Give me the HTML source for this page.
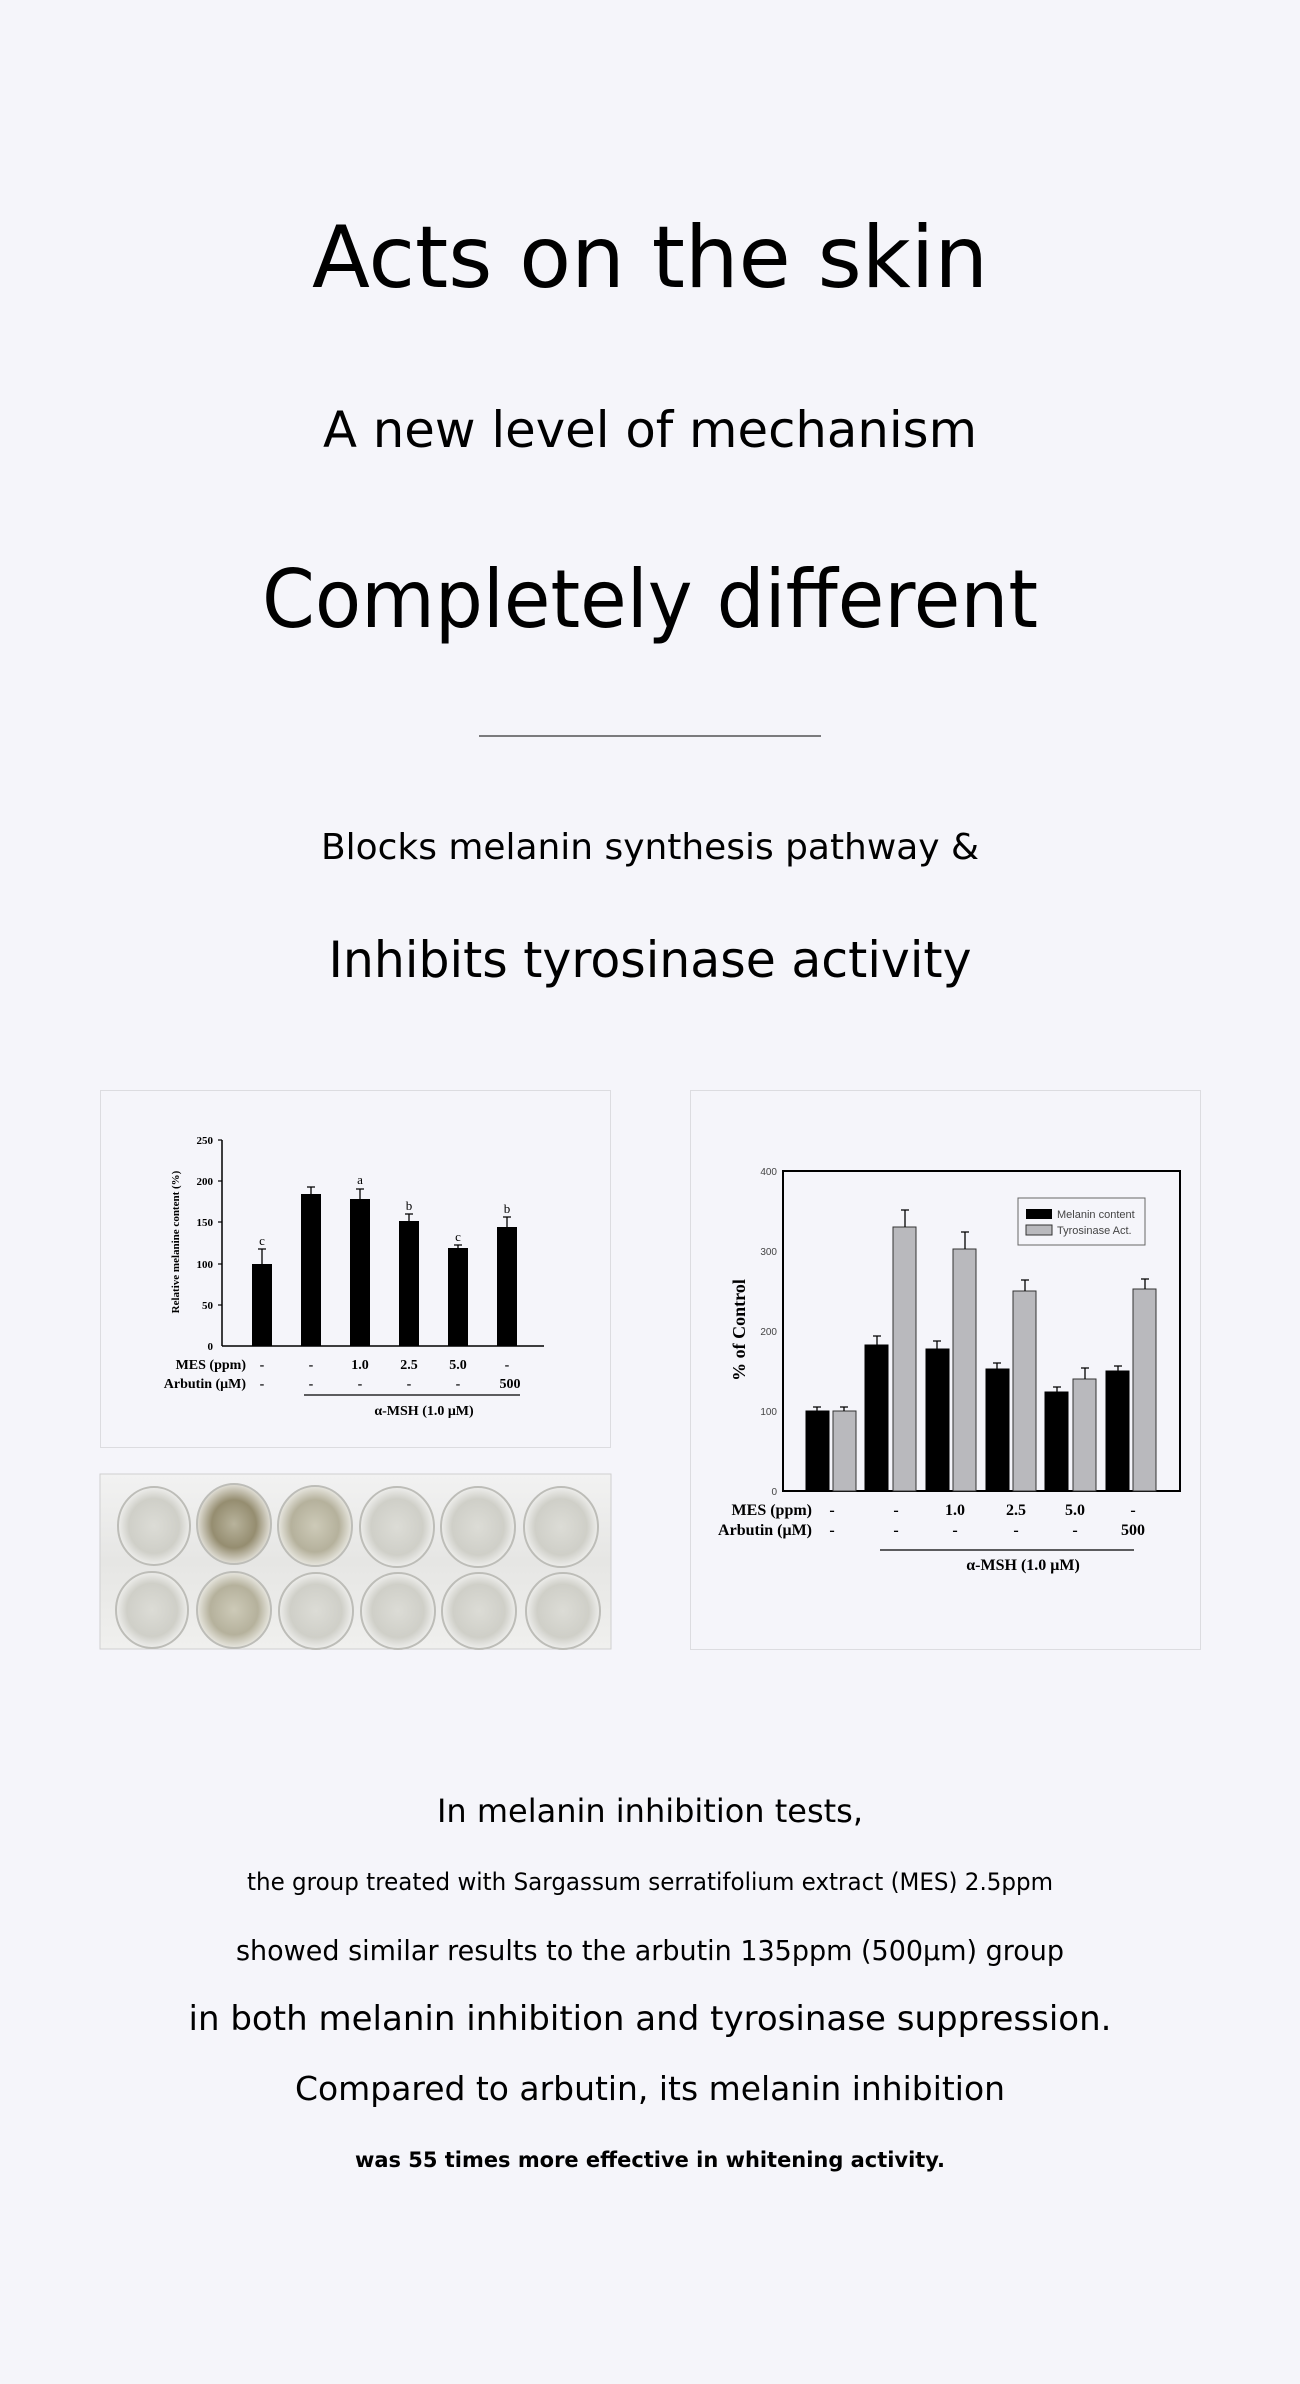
<!DOCTYPE html>
<html><head><meta charset="utf-8"><style>
html,body{margin:0;padding:0;background:#f5f5fa;}
svg{display:block;}
</style></head><body>
<svg width="1300" height="2384" viewBox="0 0 1300 2384" xmlns="http://www.w3.org/2000/svg" font-family="DejaVu Sans, Liberation Sans, sans-serif">
<rect width="1300" height="2384" fill="#f5f5fa"/>
<g fill="#000" text-anchor="middle">
<text x="650" y="287" font-size="86" textLength="676" lengthAdjust="spacingAndGlyphs">Acts on the skin</text>
<text x="650" y="447" font-size="50" textLength="654" lengthAdjust="spacingAndGlyphs">A new level of mechanism</text>
<text x="650" y="627" font-size="80" textLength="776" lengthAdjust="spacingAndGlyphs">Completely different</text>
<text x="650" y="859" font-size="36" textLength="658" lengthAdjust="spacingAndGlyphs">Blocks melanin synthesis pathway &amp;</text>
<text x="650" y="977" font-size="50" textLength="643" lengthAdjust="spacingAndGlyphs">Inhibits tyrosinase activity</text>
<text x="650" y="1822" font-size="32" textLength="426" lengthAdjust="spacingAndGlyphs">In melanin inhibition tests,</text>
<text x="650" y="1890" font-size="24" textLength="806" lengthAdjust="spacingAndGlyphs">the group treated with Sargassum serratifolium extract (MES) 2.5ppm</text>
<text x="650" y="1960" font-size="28" textLength="828" lengthAdjust="spacingAndGlyphs">showed similar results to the arbutin 135ppm (500μm) group</text>
<text x="650" y="2030" font-size="34" textLength="923" lengthAdjust="spacingAndGlyphs">in both melanin inhibition and tyrosinase suppression.</text>
<text x="650" y="2100" font-size="33" textLength="710" lengthAdjust="spacingAndGlyphs">Compared to arbutin, its melanin inhibition</text>
<text x="650" y="2167" font-size="21" font-weight="bold" textLength="590" lengthAdjust="spacingAndGlyphs">was 55 times more effective in whitening activity.</text>
</g>
<line x1="479" y1="736" x2="821" y2="736" stroke="#333" stroke-width="1.2"/>

<!-- left chart panel -->
<rect x="100.5" y="1090.5" width="510" height="357" fill="#f5f5fa" stroke="#dcdce0"/>
<g font-family="Liberation Serif, serif" font-weight="bold" fill="#000">
<line x1="222" y1="1140" x2="222" y2="1346" stroke="#000" stroke-width="1.5"/>
<line x1="222" y1="1346" x2="544" y2="1346" stroke="#000" stroke-width="1.5"/>
<g font-size="11" text-anchor="end">
<text x="213" y="1144">250</text><text x="213" y="1185">200</text><text x="213" y="1226">150</text>
<text x="213" y="1268">100</text><text x="213" y="1309">50</text><text x="213" y="1350">0</text>
</g>
<g stroke="#000" stroke-width="1.2">
<line x1="218" y1="1140" x2="222" y2="1140"/><line x1="218" y1="1181" x2="222" y2="1181"/><line x1="218" y1="1222" x2="222" y2="1222"/>
<line x1="218" y1="1264" x2="222" y2="1264"/><line x1="218" y1="1305" x2="222" y2="1305"/>
</g>
<text transform="translate(179,1242) rotate(-90)" font-size="11" text-anchor="middle">Relative melanine content (%)</text>
<g fill="#000">
<rect x="252" y="1264" width="20" height="82"/>
<rect x="301" y="1194" width="20" height="152"/>
<rect x="350" y="1199" width="20" height="147"/>
<rect x="399" y="1221" width="20" height="125"/>
<rect x="448" y="1248" width="20" height="98"/>
<rect x="497" y="1227" width="20" height="119"/>
</g>
<g stroke="#000" stroke-width="1.3">
<path d="M262 1264V1249M258 1249H266"/>
<path d="M311 1194V1187M307 1187H315"/>
<path d="M360 1199V1189M356 1189H364"/>
<path d="M409 1221V1214M405 1214H413"/>
<path d="M458 1248V1245M454 1245H462"/>
<path d="M507 1227V1217M503 1217H511"/>
</g>
<g font-size="13" font-weight="normal" text-anchor="middle">
<text x="262" y="1245">c</text><text x="360" y="1184">a</text><text x="409" y="1210">b</text>
<text x="458" y="1241">c</text><text x="507" y="1213">b</text>
</g>
<g font-size="14" text-anchor="end"><text x="246" y="1369">MES (ppm)</text><text x="246" y="1388">Arbutin (μM)</text></g>
<g font-size="14" text-anchor="middle">
<text x="262" y="1369">-</text><text x="311" y="1369">-</text><text x="360" y="1369">1.0</text><text x="409" y="1369">2.5</text><text x="458" y="1369">5.0</text><text x="507" y="1369">-</text>
<text x="262" y="1388">-</text><text x="311" y="1388">-</text><text x="360" y="1388">-</text><text x="409" y="1388">-</text><text x="458" y="1388">-</text><text x="510" y="1388">500</text>
<text x="424" y="1415">α-MSH (1.0 μM)</text>
</g>
<line x1="304" y1="1395" x2="520" y2="1395" stroke="#000" stroke-width="1.3"/>
</g>

<!-- photo -->
<defs>
<linearGradient id="pbg" x1="0" y1="0" x2="0" y2="1"><stop offset="0" stop-color="#f2f2f2"/><stop offset="0.5" stop-color="#e6e6e4"/><stop offset="1" stop-color="#f0f0ee"/></linearGradient>
<radialGradient id="wc" cx="0.5" cy="0.5" r="0.5"><stop offset="0" stop-color="#dcdcd6"/><stop offset="0.7" stop-color="#cfcfc8"/><stop offset="1" stop-color="#eeeeec"/></radialGradient>
<radialGradient id="wd" cx="0.5" cy="0.5" r="0.5"><stop offset="0" stop-color="#b8b39c"/><stop offset="0.6" stop-color="#958d70"/><stop offset="1" stop-color="#e2e0d8"/></radialGradient>
<radialGradient id="wm" cx="0.5" cy="0.5" r="0.5"><stop offset="0" stop-color="#cdcab8"/><stop offset="0.65" stop-color="#b5b19c"/><stop offset="1" stop-color="#e8e7e0"/></radialGradient>
</defs>
<rect x="100" y="1474" width="511" height="175" fill="url(#pbg)" stroke="#d0d0d0"/>
<g stroke="#bdbdb8" stroke-width="2">
<ellipse cx="154" cy="1526" rx="36" ry="39" fill="url(#wc)"/>
<ellipse cx="234" cy="1524" rx="37" ry="40" fill="url(#wd)"/>
<ellipse cx="315" cy="1526" rx="37" ry="40" fill="url(#wm)"/>
<ellipse cx="397" cy="1527" rx="37" ry="40" fill="url(#wc)"/>
<ellipse cx="478" cy="1527" rx="37" ry="40" fill="url(#wc)"/>
<ellipse cx="561" cy="1527" rx="37" ry="40" fill="url(#wc)"/>
<ellipse cx="152" cy="1610" rx="36" ry="38" fill="url(#wc)"/>
<ellipse cx="234" cy="1610" rx="37" ry="38" fill="url(#wm)"/>
<ellipse cx="316" cy="1611" rx="37" ry="38" fill="url(#wc)"/>
<ellipse cx="398" cy="1611" rx="37" ry="38" fill="url(#wc)"/>
<ellipse cx="479" cy="1611" rx="37" ry="38" fill="url(#wc)"/>
<ellipse cx="563" cy="1611" rx="37" ry="38" fill="url(#wc)"/>
</g>

<!-- right chart panel -->
<rect x="690.5" y="1090.5" width="510" height="559" fill="#f5f5fa" stroke="#dcdce0"/>
<rect x="783" y="1171" width="397" height="320" fill="none" stroke="#000" stroke-width="2"/>
<g font-family="Liberation Sans, sans-serif" font-size="10" fill="#444" text-anchor="end">
<text x="777" y="1175">400</text><text x="777" y="1255">300</text><text x="777" y="1335">200</text><text x="777" y="1415">100</text><text x="777" y="1495">0</text>
</g>
<g fill="#000" stroke="#000" stroke-width="1">
<rect x="806" y="1411" width="23" height="80"/>
<rect x="865" y="1345" width="23" height="146"/>
<rect x="926" y="1349" width="23" height="142"/>
<rect x="986" y="1369" width="23" height="122"/>
<rect x="1045" y="1392" width="23" height="99"/>
<rect x="1106" y="1371" width="23" height="120"/>
</g>
<g fill="#b9b9bd" stroke="#333" stroke-width="1">
<rect x="833" y="1411" width="23" height="80"/>
<rect x="893" y="1227" width="23" height="264"/>
<rect x="953" y="1249" width="23" height="242"/>
<rect x="1013" y="1291" width="23" height="200"/>
<rect x="1073" y="1379" width="23" height="112"/>
<rect x="1133" y="1289" width="23" height="202"/>
</g>
<g stroke="#000" stroke-width="1.3">
<path d="M817 1411V1407M813 1407H821M844 1411V1407M840 1407H848"/>
<path d="M877 1345V1336M873 1336H881M905 1227V1210M901 1210H909"/>
<path d="M937 1349V1341M933 1341H941M965 1249V1232M961 1232H969"/>
<path d="M997 1369V1363M993 1363H1001M1025 1291V1280M1021 1280H1029"/>
<path d="M1057 1392V1387M1053 1387H1061M1085 1379V1368M1081 1368H1089"/>
<path d="M1118 1371V1366M1114 1366H1122M1145 1289V1279M1141 1279H1149"/>
</g>
<rect x="1018" y="1198" width="127" height="47" fill="none" stroke="#666" stroke-width="1"/>
<rect x="1026" y="1209" width="26" height="10" fill="#000"/>
<rect x="1026" y="1225" width="26" height="10" fill="#b9b9bd" stroke="#333"/>
<g font-family="Liberation Sans, sans-serif" font-size="11" fill="#444">
<text x="1057" y="1218">Melanin content</text><text x="1057" y="1234">Tyrosinase Act.</text>
</g>
<g font-family="Liberation Serif, serif" font-weight="bold" fill="#000">
<text transform="translate(745,1330) rotate(-90)" font-size="18" text-anchor="middle">% of Control</text>
<g font-size="16" text-anchor="end"><text x="812" y="1515">MES (ppm)</text><text x="812" y="1535">Arbutin (μM)</text></g>
<g font-size="16" text-anchor="middle">
<text x="832" y="1515">-</text><text x="896" y="1515">-</text><text x="955" y="1515">1.0</text><text x="1016" y="1515">2.5</text><text x="1075" y="1515">5.0</text><text x="1133" y="1515">-</text>
<text x="832" y="1535">-</text><text x="896" y="1535">-</text><text x="955" y="1535">-</text><text x="1016" y="1535">-</text><text x="1075" y="1535">-</text><text x="1133" y="1535">500</text>
<text x="1023" y="1570">α-MSH (1.0 μM)</text>
</g>
<line x1="880" y1="1550" x2="1134" y2="1550" stroke="#000" stroke-width="1.3"/>
</g>
</svg>
</body></html>
